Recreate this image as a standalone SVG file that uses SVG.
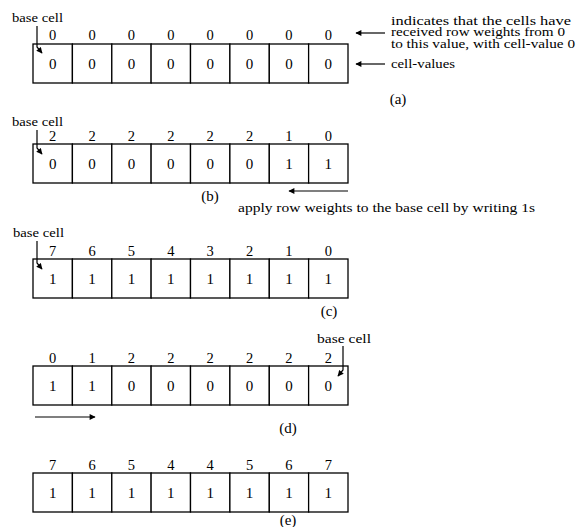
<svg xmlns="http://www.w3.org/2000/svg" width="578" height="527" viewBox="0 0 578 527">
<style>
text{font-family:"Liberation Serif","Times New Roman",serif;fill:#000}
.cell{fill:#fff;stroke:#000;stroke-width:1.3}
.w{font-size:14.5px;text-anchor:middle}
.v{font-size:15px;text-anchor:middle}
.lbl{font-size:15px;text-anchor:middle}
.ann{font-size:13px}
.ann2{font-size:12.5px}
.conn{fill:none;stroke:#000;stroke-width:1.2}
</style>
<defs>
<marker id="ah" viewBox="0 0 10 10" refX="9" refY="5" markerWidth="7" markerHeight="6" markerUnits="userSpaceOnUse" orient="auto">
<path d="M0,0 L10,5 L0,10 Z" fill="#000"/>
</marker>
</defs>
<rect width="578" height="527" fill="#fff"/>

<!-- row (a) -->
<g id="row-a">
<g id="a0"><rect class="cell" x="33" y="44" width="39.4" height="39"/><text class="w" x="52.7" y="40">0</text><text class="v" x="52.7" y="69">0</text></g>
<g id="a1"><rect class="cell" x="72.4" y="44" width="39.4" height="39"/><text class="w" x="92.1" y="40">0</text><text class="v" x="92.1" y="69">0</text></g>
<g id="a2"><rect class="cell" x="111.8" y="44" width="39.4" height="39"/><text class="w" x="131.4" y="40">0</text><text class="v" x="131.4" y="69">0</text></g>
<g id="a3"><rect class="cell" x="151.1" y="44" width="39.4" height="39"/><text class="w" x="170.8" y="40">0</text><text class="v" x="170.8" y="69">0</text></g>
<g id="a4"><rect class="cell" x="190.5" y="44" width="39.4" height="39"/><text class="w" x="210.2" y="40">0</text><text class="v" x="210.2" y="69">0</text></g>
<g id="a5"><rect class="cell" x="229.9" y="44" width="39.4" height="39"/><text class="w" x="249.6" y="40">0</text><text class="v" x="249.6" y="69">0</text></g>
<g id="a6"><rect class="cell" x="269.3" y="44" width="39.4" height="39"/><text class="w" x="288.9" y="40">0</text><text class="v" x="288.9" y="69">0</text></g>
<g id="a7"><rect class="cell" x="308.6" y="44" width="39.4" height="39"/><text class="w" x="328.3" y="40">0</text><text class="v" x="328.3" y="69">0</text></g>
</g>
<g id="label-a">
<text class="ann" x="12" y="22" textLength="51" lengthAdjust="spacingAndGlyphs">base cell</text>
<text class="ann2" x="391" y="24.5" textLength="180" lengthAdjust="spacingAndGlyphs">indicates that the cells have</text>
<text class="ann2" x="391" y="36" textLength="174" lengthAdjust="spacingAndGlyphs">received row weights from 0</text>
<text class="ann2" x="391" y="47.5" textLength="184" lengthAdjust="spacingAndGlyphs">to this value, with cell-value 0</text>
<text class="ann" x="391" y="68" textLength="64" lengthAdjust="spacingAndGlyphs">cell-values</text>
<text class="lbl" x="398" y="104">(a)</text>
</g>

<!-- row (b) -->
<g id="row-b">
<g id="b0"><rect class="cell" x="33" y="144" width="39.4" height="39"/><text class="w" x="52.7" y="141">2</text><text class="v" x="52.7" y="169">0</text></g>
<g id="b1"><rect class="cell" x="72.4" y="144" width="39.4" height="39"/><text class="w" x="92.1" y="141">2</text><text class="v" x="92.1" y="169">0</text></g>
<g id="b2"><rect class="cell" x="111.8" y="144" width="39.4" height="39"/><text class="w" x="131.4" y="141">2</text><text class="v" x="131.4" y="169">0</text></g>
<g id="b3"><rect class="cell" x="151.1" y="144" width="39.4" height="39"/><text class="w" x="170.8" y="141">2</text><text class="v" x="170.8" y="169">0</text></g>
<g id="b4"><rect class="cell" x="190.5" y="144" width="39.4" height="39"/><text class="w" x="210.2" y="141">2</text><text class="v" x="210.2" y="169">0</text></g>
<g id="b5"><rect class="cell" x="229.9" y="144" width="39.4" height="39"/><text class="w" x="249.6" y="141">2</text><text class="v" x="249.6" y="169">0</text></g>
<g id="b6"><rect class="cell" x="269.3" y="144" width="39.4" height="39"/><text class="w" x="288.9" y="141">1</text><text class="v" x="288.9" y="169">1</text></g>
<g id="b7"><rect class="cell" x="308.6" y="144" width="39.4" height="39"/><text class="w" x="328.3" y="141">0</text><text class="v" x="328.3" y="169">1</text></g>
</g>
<g id="label-b">
<text class="ann" x="12" y="126" textLength="51" lengthAdjust="spacingAndGlyphs">base cell</text>
<text class="lbl" x="210" y="201">(b)</text>
<text class="ann" x="238" y="212" textLength="297" lengthAdjust="spacingAndGlyphs">apply row weights to the base cell by writing 1s</text>
</g>

<!-- row (c) -->
<g id="row-c">
<g id="c0"><rect class="cell" x="33" y="259" width="39.4" height="39"/><text class="w" x="52.7" y="256">7</text><text class="v" x="52.7" y="284">1</text></g>
<g id="c1"><rect class="cell" x="72.4" y="259" width="39.4" height="39"/><text class="w" x="92.1" y="256">6</text><text class="v" x="92.1" y="284">1</text></g>
<g id="c2"><rect class="cell" x="111.8" y="259" width="39.4" height="39"/><text class="w" x="131.4" y="256">5</text><text class="v" x="131.4" y="284">1</text></g>
<g id="c3"><rect class="cell" x="151.1" y="259" width="39.4" height="39"/><text class="w" x="170.8" y="256">4</text><text class="v" x="170.8" y="284">1</text></g>
<g id="c4"><rect class="cell" x="190.5" y="259" width="39.4" height="39"/><text class="w" x="210.2" y="256">3</text><text class="v" x="210.2" y="284">1</text></g>
<g id="c5"><rect class="cell" x="229.9" y="259" width="39.4" height="39"/><text class="w" x="249.6" y="256">2</text><text class="v" x="249.6" y="284">1</text></g>
<g id="c6"><rect class="cell" x="269.3" y="259" width="39.4" height="39"/><text class="w" x="288.9" y="256">1</text><text class="v" x="288.9" y="284">1</text></g>
<g id="c7"><rect class="cell" x="308.6" y="259" width="39.4" height="39"/><text class="w" x="328.3" y="256">0</text><text class="v" x="328.3" y="284">1</text></g>
</g>
<g id="label-c">
<text class="ann" x="13" y="237" textLength="51" lengthAdjust="spacingAndGlyphs">base cell</text>
<text class="lbl" x="329" y="316">(c)</text>
</g>

<!-- row (d) -->
<g id="row-d">
<g id="d0"><rect class="cell" x="33" y="366" width="39.4" height="39"/><text class="w" x="52.7" y="363">0</text><text class="v" x="52.7" y="391">1</text></g>
<g id="d1"><rect class="cell" x="72.4" y="366" width="39.4" height="39"/><text class="w" x="92.1" y="363">1</text><text class="v" x="92.1" y="391">1</text></g>
<g id="d2"><rect class="cell" x="111.8" y="366" width="39.4" height="39"/><text class="w" x="131.4" y="363">2</text><text class="v" x="131.4" y="391">0</text></g>
<g id="d3"><rect class="cell" x="151.1" y="366" width="39.4" height="39"/><text class="w" x="170.8" y="363">2</text><text class="v" x="170.8" y="391">0</text></g>
<g id="d4"><rect class="cell" x="190.5" y="366" width="39.4" height="39"/><text class="w" x="210.2" y="363">2</text><text class="v" x="210.2" y="391">0</text></g>
<g id="d5"><rect class="cell" x="229.9" y="366" width="39.4" height="39"/><text class="w" x="249.6" y="363">2</text><text class="v" x="249.6" y="391">0</text></g>
<g id="d6"><rect class="cell" x="269.3" y="366" width="39.4" height="39"/><text class="w" x="288.9" y="363">2</text><text class="v" x="288.9" y="391">0</text></g>
<g id="d7"><rect class="cell" x="308.6" y="366" width="39.4" height="39"/><text class="w" x="328.3" y="363">2</text><text class="v" x="328.3" y="391">0</text></g>
</g>
<g id="label-d">
<text class="ann" x="317" y="343" textLength="54" lengthAdjust="spacingAndGlyphs">base cell</text>
<text class="lbl" x="288" y="433">(d)</text>
</g>

<!-- row (e) -->
<g id="row-e">
<g id="e0"><rect class="cell" x="33" y="473" width="39.4" height="39"/><text class="w" x="52.7" y="470">7</text><text class="v" x="52.7" y="498">1</text></g>
<g id="e1"><rect class="cell" x="72.4" y="473" width="39.4" height="39"/><text class="w" x="92.1" y="470">6</text><text class="v" x="92.1" y="498">1</text></g>
<g id="e2"><rect class="cell" x="111.8" y="473" width="39.4" height="39"/><text class="w" x="131.4" y="470">5</text><text class="v" x="131.4" y="498">1</text></g>
<g id="e3"><rect class="cell" x="151.1" y="473" width="39.4" height="39"/><text class="w" x="170.8" y="470">4</text><text class="v" x="170.8" y="498">1</text></g>
<g id="e4"><rect class="cell" x="190.5" y="473" width="39.4" height="39"/><text class="w" x="210.2" y="470">4</text><text class="v" x="210.2" y="498">1</text></g>
<g id="e5"><rect class="cell" x="229.9" y="473" width="39.4" height="39"/><text class="w" x="249.6" y="470">5</text><text class="v" x="249.6" y="498">1</text></g>
<g id="e6"><rect class="cell" x="269.3" y="473" width="39.4" height="39"/><text class="w" x="288.9" y="470">6</text><text class="v" x="288.9" y="498">1</text></g>
<g id="e7"><rect class="cell" x="308.6" y="473" width="39.4" height="39"/><text class="w" x="328.3" y="470">7</text><text class="v" x="328.3" y="498">1</text></g>
</g>
<g id="label-e">
<text class="lbl" x="288" y="525">(e)</text>
</g>

<g id="connectors">
<path class="conn" d="M37,26 V47 L42,53" marker-end="url(#ah)"/>
<path class="conn" d="M385,33 H356" marker-end="url(#ah)"/>
<path class="conn" d="M385,64 H356" marker-end="url(#ah)"/>
<path class="conn" d="M37,130 V148 L42,154" marker-end="url(#ah)"/>
<path class="conn" d="M348,191 H289" marker-end="url(#ah)"/>
<path class="conn" d="M37,241 V263 L42,269" marker-end="url(#ah)"/>
<path class="conn" d="M343,346 V370 L338,376" marker-end="url(#ah)"/>
<path class="conn" d="M35,417 H95" marker-end="url(#ah)"/>
</g>
</svg>
